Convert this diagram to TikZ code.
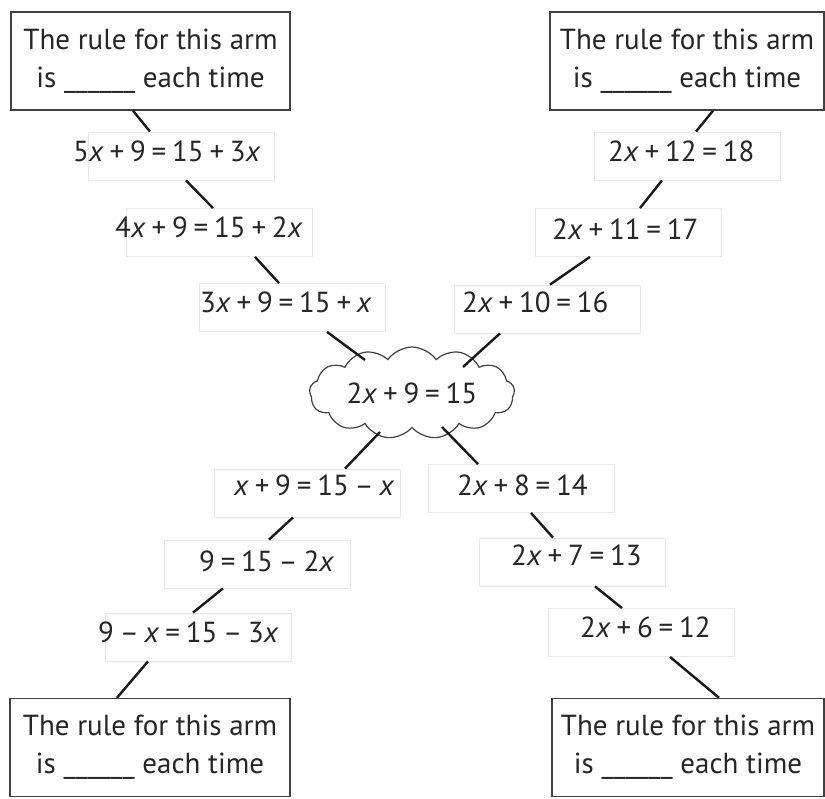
\documentclass[tikz,border=0pt]{standalone}
\usepackage{fontspec}
\setmainfont{PT Sans}
\usetikzlibrary{shapes.symbols,calc}
\newcommand\tightsp{\spaceskip=0.2em\relax}
\begin{document}
\begin{tikzpicture}[x=1pt,y=-1pt,
  every node/.style={font=\fontsize{29}{38}\selectfont, text=black!85, inner sep=0pt},
  rulebox/.style={draw=black!75, line width=1.5pt, rectangle, minimum width=#1, minimum height=98pt, align=center},
  eqbox/.style={draw=black!9, line width=0.8pt, rectangle, minimum width=186pt, minimum height=48pt},
  eqtext/.style={anchor=base west, execute at begin node=\tightsp},
  link/.style={draw=black!90, line width=2.4pt}
]
\useasboundingbox[fill=white] (0,0) rectangle (825,799);
% rule boxes
\node[rulebox=279pt] (TL) at (150.5,61) {The rule for this arm\\is \_\_\_\_\_\_ each time};
\node[rulebox=274pt] (TR) at (687,61) {The rule for this arm\\is \_\_\_\_\_\_ each time};
\node[rulebox=280pt] (BL) at (150,747.5) {The rule for this arm\\is \_\_\_\_\_\_ each time};
\node[rulebox=272pt] (BR) at (688,747.5) {The rule for this arm\\is \_\_\_\_\_\_ each time};
% equation boxes
\node[eqbox] (e5) at (181,156) {};
\node[eqbox] (e4) at (219.5,232.5) {};
\node[eqbox] (e3) at (292.5,307.5) {};
\node[eqbox] (ex) at (307,493) {};
\node[eqbox] (e9) at (257.5,564) {};
\node[eqbox] (e9x) at (198.5,637) {};
\node[eqbox] (r12) at (687.5,156) {};
\node[eqbox] (r11) at (628,232.5) {};
\node[eqbox] (r10) at (547,309) {};
\node[eqbox] (r8) at (521,488.5) {};
\node[eqbox] (r7) at (572.5,562) {};
\node[eqbox] (r6) at (641.5,632.5) {};
% equation texts
\node[eqtext] (t5) at (73,162) {5\textit{x} + 9 = 15 + 3\textit{x}};
\node[eqtext] (t4) at (115,238) {4\textit{x} + 9 = 15 + 2\textit{x}};
\node[eqtext] (t3) at (200,313) {3\textit{x} + 9 = 15 + \textit{x}};
\node[eqtext] (tx) at (234,495) {\textit{x} + 9 = 15 – \textit{x}};
\node[eqtext] (t9) at (199,571) {9 = 15 – 2\textit{x}};
\node[eqtext] (t9x) at (98,642) {9 – \textit{x} = 15 – 3\textit{x}};
\node[eqtext] (s12) at (608,162) {2\textit{x} + 12 = 18};
\node[eqtext] (s11) at (552,240) {2\textit{x} + 11 = 17};
\node[eqtext] (s10) at (462,313) {2\textit{x} + 10 = 16};
\node[eqtext] (s8) at (457,495) {2\textit{x} + 8 = 14};
\node[eqtext] (s7) at (511,565) {2\textit{x} + 7 = 13};
\node[eqtext] (s6) at (580,637) {2\textit{x} + 6 = 12};
% cloud
\node[cloud, draw=black!75, line width=1.2pt, cloud puffs=13, cloud puff arc=110, aspect=2.6,
      minimum width=205pt, minimum height=80pt, execute at begin node=\tightsp] (cl) at (412,393) {2\textit{x} + 9 = 15};
% connectors
\draw[link] ($(TL.south)+(-17.5,0)$) -- ($(e5.north)+(-31,0)$);
\draw[link] ($(e5.south)+(5,0)$) -- ($(e4.north)+(-6.5,0)$);
\draw[link] ($(e4.south)+(35.5,0)$) -- ($(e3.north)+(-13.5,0)$);
\draw[link] ($(e3.south)+(34.5,0)$) -- ($(cl.center)+(-47,-33)$);
\draw[link] ($(r10.south)+(-47,0)$) -- ($(cl.center)+(51,-26)$);
\draw[link] ($(cl.center)+(-32,39)$) -- ($(ex.north)+(38,0)$);
\draw[link] ($(cl.center)+(30,34)$) -- ($(r8.north)+(-43,0)$);
\draw[link] ($(ex.south)+(-14,0)$) -- ($(e9.north)+(11.5,0)$);
\draw[link] ($(e9.south)+(-34.5,0)$) -- ($(e9x.north)+(-5.5,0)$);
\draw[link] ($(e9x.south)+(-50.5,0)$) -- ($(BL.north)+(-33,0)$);
\draw[link] ($(TR.south)+(26,0)$) -- ($(r12.north)+(8.5,0)$);
\draw[link] ($(r12.south)+(-25.5,0)$) -- ($(r11.north)+(12,0)$);
\draw[link] ($(r11.south)+(-38,0)$) -- ($(r10.north)+(3,0)$);
\draw[link] ($(r8.south)+(10,0)$) -- ($(r7.north)+(-19.5,0)$);
\draw[link] ($(r7.south)+(22.5,0)$) -- ($(r6.north)+(-19.5,0)$);
\draw[link] ($(r6.south)+(28.5,0)$) -- ($(BR.north)+(31,0)$);
\end{tikzpicture}
\end{document}
